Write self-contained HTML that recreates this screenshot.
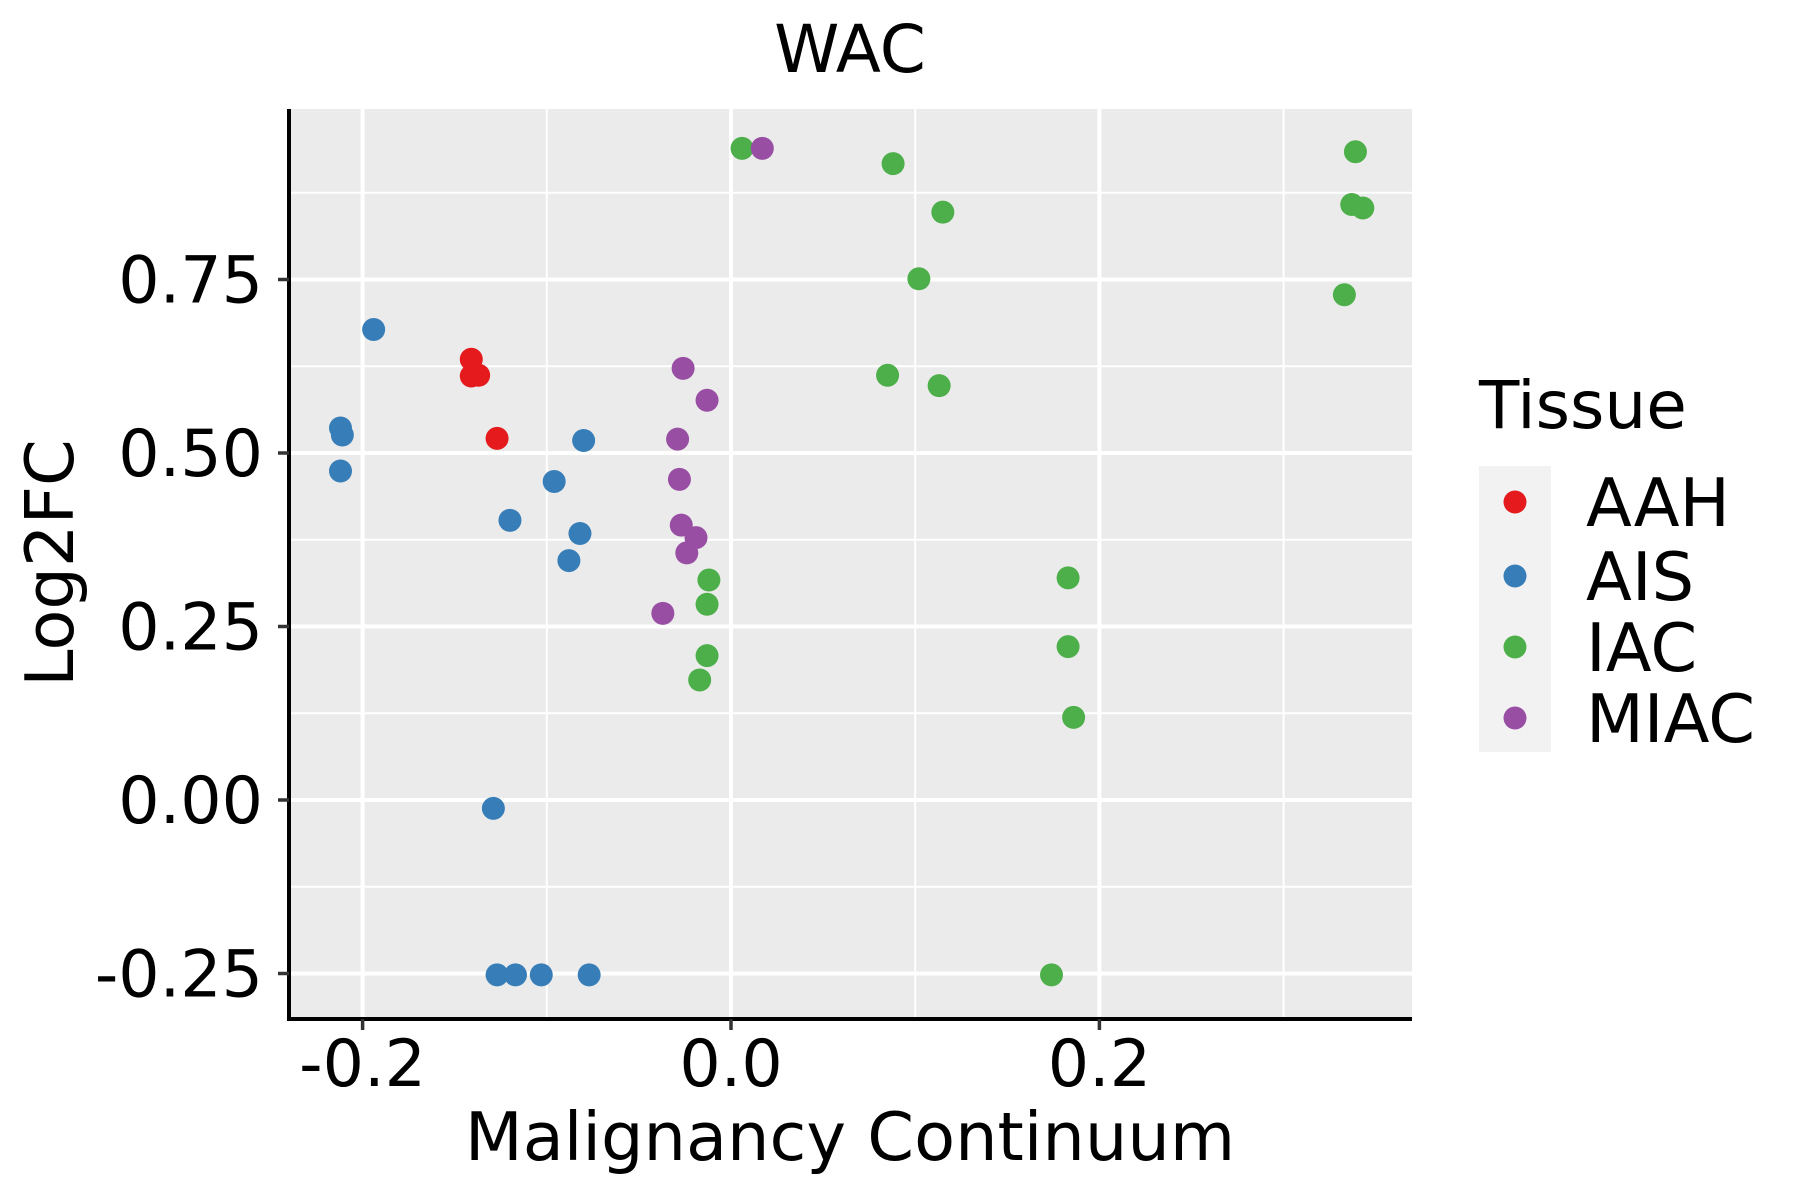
<!DOCTYPE html>
<html><head><meta charset="utf-8"><style>
html,body{margin:0;padding:0;background:#fff;}
svg{display:block;font-family:"DejaVu Sans","Liberation Sans",sans-serif;}
</style></head><body>
<svg id="chart" width="1800" height="1200" xmlns="http://www.w3.org/2000/svg">
<rect x="0" y="0" width="1800" height="1200" fill="#fff"/>
<text x="850" y="72" font-size="66" text-anchor="middle">WAC</text>
<rect x="289" y="109" width="1123" height="910" fill="#ebebeb"/>
<g id="grid"></g>
<g id="points"></g>
<line x1="289" y1="109" x2="289" y2="1021" stroke="#000" stroke-width="4"/>
<line x1="287" y1="1019" x2="1412" y2="1019" stroke="#000" stroke-width="4"/>
<g id="axes"></g>
<text x="850" y="1160" font-size="67" text-anchor="middle">Malignancy Continuum</text>
<text transform="translate(73,563) rotate(-90)" font-size="67" text-anchor="middle">Log2FC</text>
<g>
<text x="1479" y="428" font-size="66">Tissue</text>
<rect x="1479" y="466" width="72" height="286" fill="#f2f2f2"/>
<g id="legend-items"></g>
</g>
</svg>
<script>
const categories = ["AAH","AIS","IAC","MIAC"];
const colors = ["#e41a1c","#377eb8","#4daf4a","#984ea3"];
const xTicks = [-0.2, 0.0, 0.2];
const xTickLabels = ["-0.2","0.0","0.2"];
const yTicks = [-0.25, 0, 0.25, 0.5, 0.75];
const yTickLabels = ["-0.25","0.00","0.25","0.50","0.75"];
const aahX = [-0.141,-0.141,-0.137,-0.127];
const aahY = [0.635,0.611,0.612,0.521];
const aisX = [-0.194,-0.212,-0.211,-0.212,-0.080,-0.096,-0.120,-0.082,-0.088,-0.129,-0.127,-0.117,-0.103,-0.077];
const aisY = [0.678,0.536,0.526,0.474,0.518,0.459,0.403,0.384,0.345,-0.012,-0.252,-0.252,-0.252,-0.252];
const iacX = [0.006,0.088,0.115,0.102,0.085,0.113,0.339,0.337,0.343,0.333,-0.012,-0.013,-0.013,-0.017,0.183,0.183,0.186,0.174];
const iacY = [0.939,0.917,0.847,0.751,0.612,0.597,0.934,0.858,0.853,0.728,0.317,0.282,0.208,0.173,0.320,0.221,0.119,-0.252];
const miacX = [0.017,-0.026,-0.013,-0.029,-0.028,-0.027,-0.019,-0.024,-0.037];
const miacY = [0.939,0.622,0.576,0.520,0.462,0.396,0.378,0.356,0.269];

const NS = "http://www.w3.org/2000/svg";
function sx(v){ return 731 + v*1842; }
function sy(v){ return 800 - v*694; }
const L=289, R=1412, T=109, B=1019;
const grid = document.getElementById('grid');
const axes = document.getElementById('axes');
function mk(tag, attrs, parent){ const e=document.createElementNS(NS,tag); for(const k in attrs) e.setAttribute(k,attrs[k]); parent.appendChild(e); return e; }
const xMinor = [-0.1, 0.1, 0.3];
const yMinor = [-0.125, 0.125, 0.375, 0.625, 0.875];
xMinor.forEach(m=>{
  const g=mk('line',{x1:sx(m),x2:sx(m),y1:T,y2:B,stroke:'#fff','stroke-width':2},grid);
  
  
});
yMinor.forEach(m=>{
  const g=mk('line',{x1:L,x2:R,y1:sy(m),y2:sy(m),stroke:'#fff','stroke-width':2},grid);
  
  
});
xTicks.forEach((v,i)=>{
  const g=mk('line',{x1:sx(v),x2:sx(v),y1:T,y2:B,stroke:'#fff','stroke-width':4},grid);
  
  
  const t=mk('line',{x1:sx(v),x2:sx(v),y1:B,y2:B+11,stroke:'#333','stroke-width':3.5},axes);
  
  
  const l=mk('text',{x:sx(v),y:1086,'font-size':65,'text-anchor':'middle'},axes);
  l.textContent=xTickLabels[i];
  
  
});
yTicks.forEach((v,i)=>{
  const g=mk('line',{x1:L,x2:R,y1:sy(v),y2:sy(v),stroke:'#fff','stroke-width':4},grid);
  
  
  const t=mk('line',{x1:L-11,x2:L,y1:sy(v),y2:sy(v),stroke:'#333','stroke-width':3.5},axes);
  
  
  const l=mk('text',{x:263,y:sy(v)+23,'font-size':65,'text-anchor':'end'},axes);
  l.textContent=yTickLabels[i];
  
  
});
const pts = document.getElementById('points');
const series = [[aahX,aahY],[aisX,aisY],[iacX,iacY],[miacX,miacY]];
series.forEach((s,ci)=>{
  s[0].forEach((xv,i)=>{
    const c=mk('circle',{cx:sx(xv),cy:sy(s[1][i]),r:11.5,fill:colors[ci]},pts);
    
    
  });
});
const li = document.getElementById('legend-items');
const keyY=[502,576,647,718];
categories.forEach((c,i)=>{
  const k=mk('circle',{cx:1515,cy:keyY[i],r:11.5,fill:colors[i]},li);
  
  
  const t=mk('text',{x:1586,y:keyY[i]+24,'font-size':67},li);
  t.textContent=c;
  
  
});
</script>
</body></html>
